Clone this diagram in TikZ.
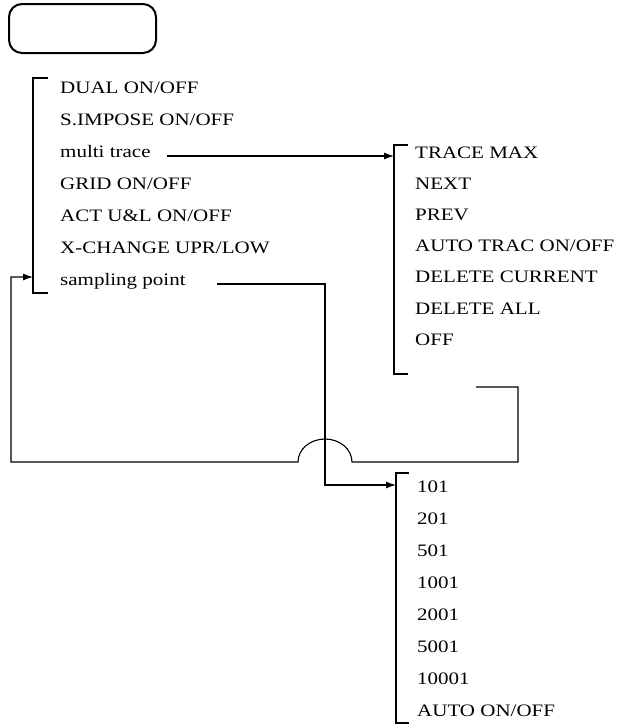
\documentclass[tikz,border=0pt]{standalone}
\usepackage{fontspec}
\newfontfamily\menufont{Liberation Serif}[FakeStretch=1.2]
\usetikzlibrary{arrows.meta}
\begin{document}
\begin{tikzpicture}[x=1pt,y=-1pt,
  item/.style={anchor=base west,inner sep=0pt,font=\menufont\fontsize{17.5}{20}\selectfont},
  brk/.style={line width=1.4pt},
  wire/.style={line width=1.1pt},
  tip/.style={-{Latex[length=10pt,width=7pt]}}]
\useasboundingbox (0,0) rectangle (618,726);
% top rounded box
\node[draw,line width=2pt,rounded corners=13pt,minimum width=147pt,minimum height=49pt,anchor=north west,inner sep=0pt] (panel) at (8,3) {};
% menu 1
\foreach \t [count=\i from 0] in {DUAL ON/OFF,S.IMPOSE ON/OFF,multi trace,GRID ON/OFF,ACT U\&L ON/OFF,X-CHANGE UPR/LOW,sampling point}
  \node[item] (m\i) at (60,93+32*\i) {\t};
\draw[brk] (48,78) -- (33,78) coordinate (b1top) -- (33,293) -- (48,293);
\coordinate (b1in) at (33,277);
% menu 2
\foreach \t [count=\i from 0] in {TRACE MAX,NEXT,PREV,AUTO TRAC ON/OFF,DELETE CURRENT,DELETE ALL,OFF}
  \node[item] (t\i) at (415,158+31.2*\i) {\t};
\draw[brk] (408,145) -- (394,145) -- (394,374) -- (408,374);
\coordinate (b2in) at (394,156);
% menu 3
\foreach \t [count=\i from 0] in {101,201,501,1001,2001,5001,10001,AUTO ON/OFF}
  \node[item] (s\i) at (417,492+32.1*\i) {\t};
\draw[brk] (409,473) -- (396,473) -- (396,723) -- (409,723);
\coordinate (b3in) at (396,485);
% connectors
\coordinate (mtout) at (167,156);
\draw[wire,tip] (mtout) -- (b2in);
\coordinate (spout) at (217,284);
\draw[wire,tip] (spout) -- (325,284) -- (325,485) -- (b3in);
\coordinate (loopstart) at (476,387);
\draw[wire,tip] (loopstart) -- (518,387) -- (518,462) -- (352,462)
  arc[start angle=0,end angle=-180,x radius=27,y radius=23]
  -- (11,462) -- (11,277) -- (b1in);
\end{tikzpicture}
\end{document}
